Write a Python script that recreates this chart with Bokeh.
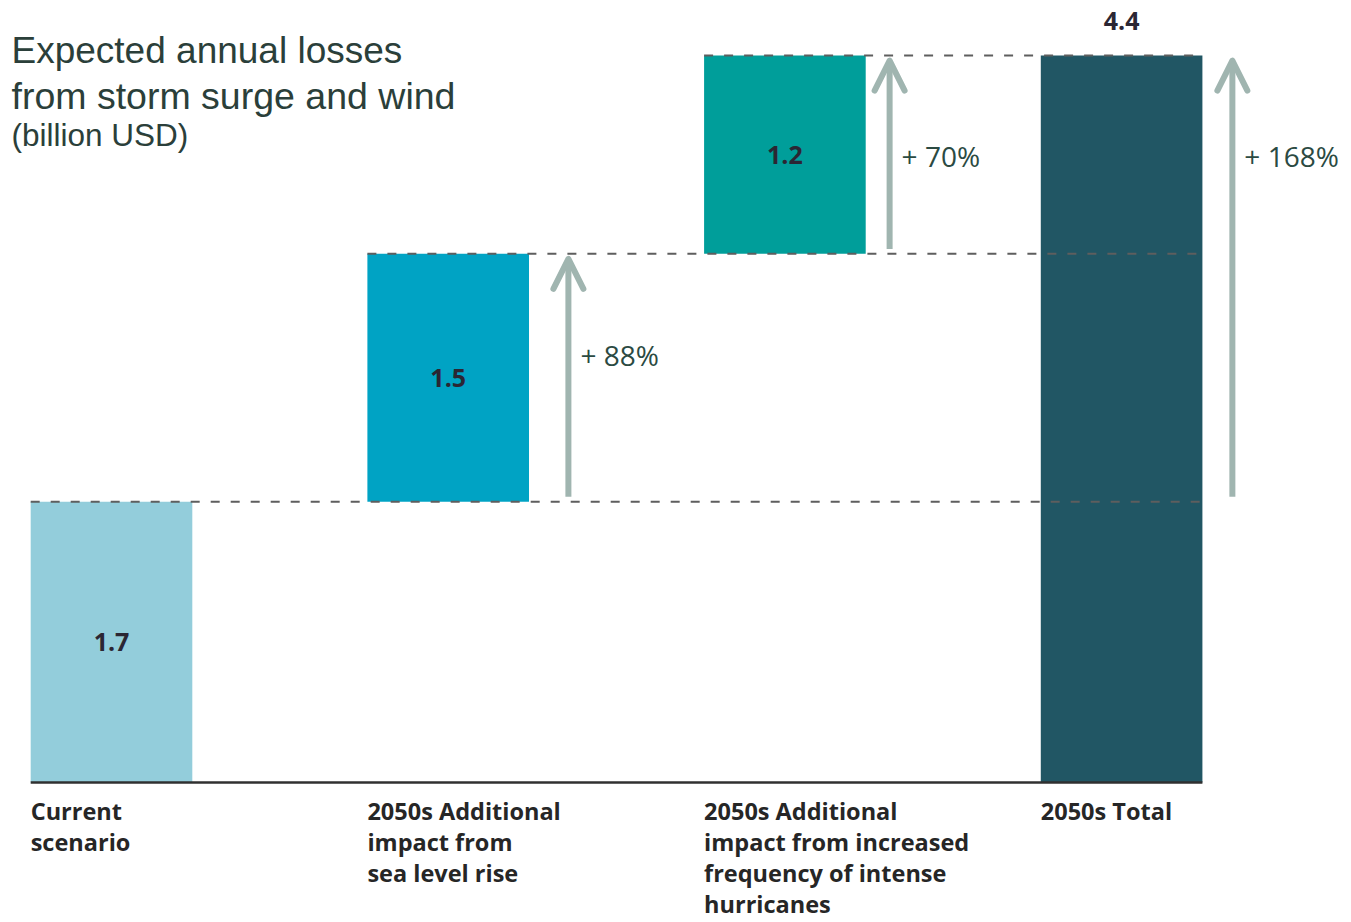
from bokeh.plotting import figure
from bokeh.models import ColumnDataSource, Range1d, Label, Arrow, OpenHead
from bokeh.core.properties import value
from bokeh.embed import file_html
from bokeh.resources import INLINE

# ---- data ----
categories = [
    "Current\nscenario",
    "2050s Additional\nimpact from\nsea level rise",
    "2050s Additional\nimpact from increased\nfrequency of intense\nhurricanes",
    "2050s Total",
]
values = [1.7, 1.5, 1.2, 4.4]
value_labels = ["1.7", "1.5", "1.2", "4.4"]
bar_colors = ["#93cddb", "#00a3c4", "#009e9a", "#215664"]
pct_labels = ["+ 88%", "+ 70%", "+ 168%"]
title_lines = ["Expected annual losses", "from storm surge and wind"]
subtitle = "(billion USD)"

# ---- derived (waterfall) ----
n = len(values)
xs = list(range(n))
bottoms = [0.0, values[0], values[0] + values[1], 0.0]
tops = [b + v for b, v in zip(bottoms, values)]
half_w = 0.24

W, H = 1351, 922
px_x = 336.7
px_y = 165.2
x0_px = 111
base_px = 140

p = figure(width=W, height=H, output_backend="svg", toolbar_location=None,
           x_range=Range1d(-x0_px / px_x, (W - x0_px) / px_x),
           y_range=Range1d(-base_px / px_y, (H - base_px) / px_y),
           min_border=0, outline_line_color=None)
p.axis.visible = False
p.grid.visible = False
p.background_fill_color = "white"
p.border_fill_color = "white"

src = ColumnDataSource(dict(x=xs, top=tops, bottom=bottoms, color=bar_colors))
p.vbar(x="x", top="top", bottom="bottom", width=2 * half_w, fill_color="color",
       line_color=None, source=src)

# dashed connector lines
dsrc = ColumnDataSource(dict(x0=[i - half_w for i in xs[:3]],
                             x1=[xs[-1] + half_w] * 3,
                             y=tops[:3]))
p.segment(x0="x0", y0="y", x1="x1", y1="y", line_color="#5e5e5e",
          line_width=2, line_dash="9 11", source=dsrc)

# baseline
p.segment(x0=[xs[0] - half_w], y0=[0], x1=[xs[-1] + half_w], y1=[0],
          line_color="#303030", line_width=2.5)

# value labels
vx = xs
vy = [(b + t) / 2 for b, t in zip(bottoms, tops)]
vy[-1] = tops[-1] + 0.21
p.text(x=vx, y=vy, text=value_labels, text_font=value("Open Sans"),
       text_font_style="bold", text_font_size="25px", text_color="#2b2633",
       text_align="center", text_baseline="middle")

# category labels
p.text(x=[i - half_w for i in xs], y=[-0.075] * n, text=categories,
       text_font=value("Open Sans"), text_font_style="bold",
       text_font_size="23.5px",
       text_color="#262626", text_align="left", text_baseline="top",
       text_line_height=0.97)

# arrows
arrow_spans = [(bottoms[1], tops[1]), (bottoms[2], tops[2]), (values[0], tops[3])]
arrow_x = [1 + 0.357, 2 + 0.311, 3 + 0.329]
arrow_color = "#a0b5b0"
for ax, (lo, hi), lab in zip(arrow_x, arrow_spans, pct_labels):
    p.add_layout(Arrow(x_start=ax, y_start=lo + 0.03, x_end=ax, y_end=hi - 0.03,
                       line_color=arrow_color, line_width=6,
                       end=OpenHead(size=30, line_color=arrow_color, line_width=6,
                                    line_cap="round", line_join="round")))
    p.add_layout(Label(x=ax, y=hi - 0.61, text=lab, x_offset=12,
                       text_font="Open Sans", text_font_size="28px",
                       text_color="#2b4a42", text_baseline="middle",
                       text_align="left"))

# title
p.add_layout(Label(x=11, y=H - 50, x_units="screen", y_units="screen",
                   text=title_lines[0], text_font="Liberation Sans",
                   text_font_size="37px", text_color="#2b3f3a",
                   text_baseline="alphabetic"))
p.add_layout(Label(x=11, y=H - 95, x_units="screen", y_units="screen",
                   text=title_lines[1], text_font="Liberation Sans",
                   text_font_size="37.5px", text_color="#2b3f3a",
                   text_baseline="alphabetic"))
p.add_layout(Label(x=11, y=H - 134, x_units="screen", y_units="screen",
                   text=subtitle, text_font="Liberation Sans",
                   text_font_size="31.5px", text_color="#2b3f3a",
                   text_baseline="alphabetic"))

open("out.html", "w").write(file_html(p, INLINE))
